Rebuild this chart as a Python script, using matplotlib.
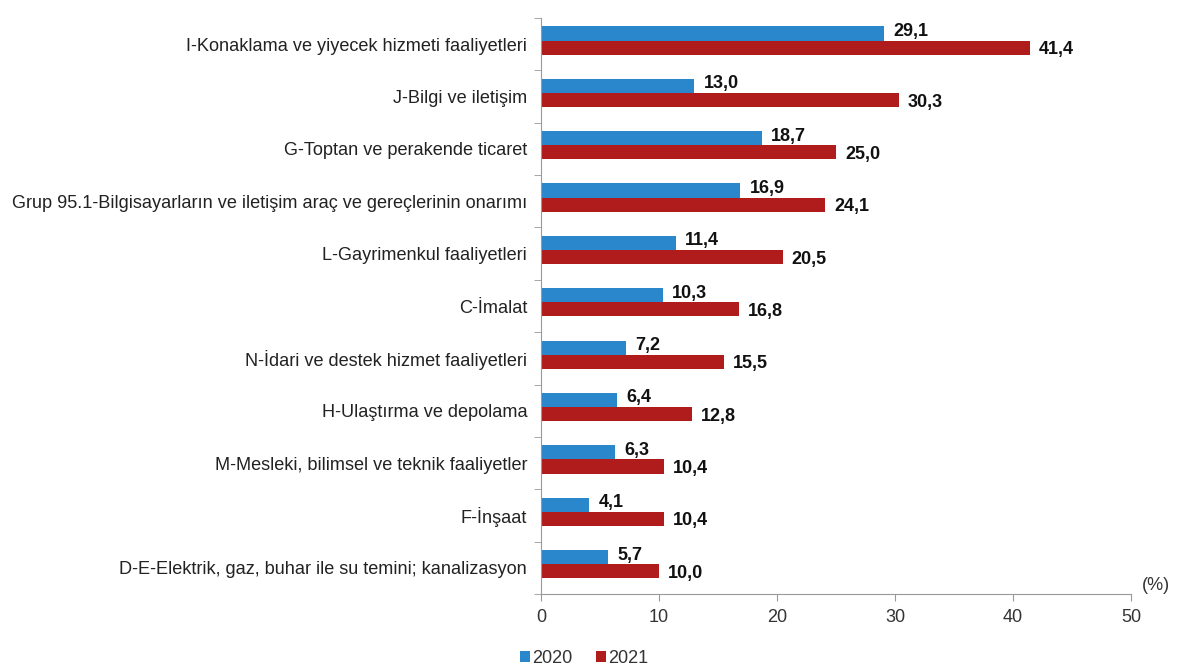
import matplotlib
matplotlib.use("Agg")
import matplotlib.pyplot as plt
import numpy as np

plt.rcParams['font.family'] = ['Liberation Sans', 'DejaVu Sans']

categories = [
    "I-Konaklama ve yiyecek hizmeti faaliyetleri",
    "J-Bilgi ve iletişim",
    "G-Toptan ve perakende ticaret",
    "Grup 95.1-Bilgisayarların ve iletişim araç ve gereçlerinin onarımı",
    "L-Gayrimenkul faaliyetleri",
    "C-İmalat",
    "N-İdari ve destek hizmet faaliyetleri",
    "H-Ulaştırma ve depolama",
    "M-Mesleki, bilimsel ve teknik faaliyetler",
    "F-İnşaat",
    "D-E-Elektrik, gaz, buhar ile su temini; kanalizasyon",
]
values_2020 = [29.1, 13.0, 18.7, 16.9, 11.4, 10.3, 7.2, 6.4, 6.3, 4.1, 5.7]
values_2021 = [41.4, 30.3, 25.0, 24.1, 20.5, 16.8, 15.5, 12.8, 10.4, 10.4, 10.0]
series_names = ["2020", "2021"]
x_ticks = [0, 10, 20, 30, 40, 50]

blue = "#2b87cc"
red = "#b01c1c"

fig = plt.figure(figsize=(11.78, 6.67), dpi=100)
ax = fig.add_axes([0.4593, 0.1094, 0.5008, 0.8636])

n = len(categories)
pos = np.arange(n)[::-1].astype(float)
h = 0.27
off = 0.07
b1 = ax.barh(pos + off + h / 2, values_2020, height=h, color=blue, label=series_names[0])
b2 = ax.barh(pos + off - h / 2, values_2021, height=h, color=red, label=series_names[1])

for rect, v in zip(b1, values_2020):
    ax.text(rect.get_width() + 0.8, rect.get_y() + rect.get_height() / 2 + 0.04,
            f"{v:.1f}".replace(".", ","), ha="left", va="center",
            fontsize=13, fontweight="bold", color="#111111")
for rect, v in zip(b2, values_2021):
    ax.text(rect.get_width() + 0.75, rect.get_y() + rect.get_height() / 2 - 0.04,
            f"{v:.1f}".replace(".", ","), ha="left", va="center",
            fontsize=13, fontweight="bold", color="#111111")

ax.set_xlim(0, 50)
ax.set_ylim(-0.5, n - 0.5)
ax.set_xticks(x_ticks)
ax.set_xticklabels([str(t) for t in x_ticks], fontsize=13, color="#333333")
ax.set_yticks(pos)
ax.set_yticklabels(categories, fontsize=13.1, color="#222222")
ax.tick_params(axis="y", length=0, pad=10)
ax.set_yticks(np.arange(n + 1) - 0.5, minor=True)
ax.tick_params(axis="y", which="minor", length=5, color="#999999")
ax.tick_params(axis="x", length=5, color="#999999", pad=6)

for s in ["top", "right"]:
    ax.spines[s].set_visible(False)
for s in ["left", "bottom"]:
    ax.spines[s].set_color("#999999")

ax.text(1.018, 0.0, "(%)", transform=ax.transAxes, ha="left", va="bottom",
        fontsize=13, color="#333333")

fig.legend(handles=[b1, b2], labels=series_names, loc="lower left",
           bbox_to_anchor=(0.428, -0.024), ncol=2, frameon=False,
           fontsize=13, handlelength=0.55, handleheight=0.55,
           handletextpad=0.1, columnspacing=1.3, labelcolor="#333333")

fig.savefig("out.png", dpi=100, facecolor="white")
